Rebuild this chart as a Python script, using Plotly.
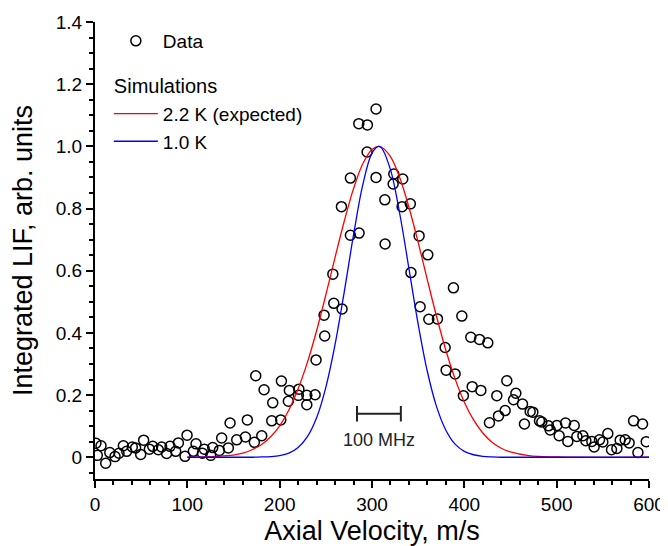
import plotly.graph_objects as go

# ---- Data ----
data_v = [1, 2.5, 6.5, 11.6, 16, 21.7, 26, 30.7, 34.3, 40.4, 44, 49.5, 52.7, 58.9, 62.5, 68.6, 72.2,
          77.6, 81.3, 87.4, 90.3, 97.5, 99.7, 106.5, 109.4, 116.3, 118.4, 125.3, 127.5, 134.7, 137.2,
          144.4, 146.3, 153.5, 162.9, 165, 172.6, 174.1, 180.6, 183.1, 191.4, 192.5, 201.2, 201.9,
          209.4, 210.5, 220.3, 220.8, 229.4, 229.4, 238.4, 239.4, 248.1, 248.8, 257.6, 258.6, 266.9,
          267.6, 276.6, 276.6, 285.7, 286, 294.7, 295, 304.4, 304.4, 313.9, 314.2, 322.9, 323.6,
          332.6, 333.3, 341.5, 342.2, 351, 352.1, 360.4, 361.5, 370.9, 379.2, 380.3, 388.2, 390,
          397.3, 399, 407, 408.5, 416.4, 417.9, 425.4, 427.2, 435.2, 437, 444.2, 446, 453.3, 455.8,
          463, 465.1, 471.3, 474.2, 481.4, 483.9, 491.1, 493, 500.2, 502.7, 509.6, 512.1, 519,
          521.9, 528.4, 531.6, 538.1, 540.6, 546.4, 550, 555.4, 559.4, 565.2, 568.8, 574.2, 578.5,
          583.3, 588, 593, 597]
data_lif = [0.045, 0.006, 0.037, -0.019, 0.015, 0.002, 0.013, 0.037, 0.019, 0.033, 0.030, 0.009, 0.055,
            0.026, 0.035, 0.024, 0.033, 0.012, 0.035, 0.019, 0.046, 0.003, 0.071, 0.019, 0.043, 0.013,
            0.026, 0.006, 0.031, 0.022, 0.062, 0.030, 0.110, 0.056, 0.065, 0.120, 0.048, 0.262, 0.069,
            0.217, 0.117, 0.175, 0.120, 0.245, 0.180, 0.215, 0.199, 0.219, 0.199, 0.169, 0.201, 0.313,
            0.457, 0.390, 0.589, 0.495, 0.806, 0.477, 0.714, 0.898, 1.073, 0.721, 0.982, 1.069, 1.120,
            0.900, 0.828, 0.686, 0.879, 0.911, 0.806, 0.895, 0.815, 0.594, 0.712, 0.484, 0.651, 0.444,
            0.445, 0.353, 0.280, 0.545, 0.268, 0.454, 0.198, 0.386, 0.227, 0.379, 0.215, 0.368, 0.111,
            0.198, 0.133, 0.150, 0.246, 0.185, 0.206, 0.171, 0.107, 0.147, 0.145, 0.117, 0.113, 0.101,
            0.088, 0.102, 0.069, 0.110, 0.051, 0.102, 0.067, 0.069, 0.053, 0.051, 0.033, 0.056, 0.049,
            0.076, 0.024, 0.028, 0.055, 0.056, 0.046, 0.117, 0.015, 0.107, 0.050]

sim_v = [100, 150, 160, 170, 180, 190, 200, 210, 220, 230, 240, 250, 260, 270, 280, 290, 300, 307,
         310, 320, 330, 340, 350, 360, 370, 380, 390, 400, 410, 420, 430, 440, 450, 470, 500, 600]
sim_22K = [0.0, 0.007, 0.013, 0.024, 0.040, 0.065, 0.101, 0.152, 0.220, 0.305, 0.407, 0.522, 0.643,
           0.760, 0.864, 0.944, 0.990, 1.000, 0.998, 0.967, 0.900, 0.804, 0.691, 0.570, 0.452, 0.344,
           0.252, 0.177, 0.120, 0.078, 0.048, 0.029, 0.017, 0.005, 0.001, 0.0]
sim_10K = [0.0, 0.0, 0.0, 0.0, 0.001, 0.002, 0.005, 0.013, 0.031, 0.066, 0.127, 0.225, 0.363, 0.533,
           0.715, 0.876, 0.978, 1.000, 0.996, 0.925, 0.784, 0.607, 0.428, 0.275, 0.162, 0.087, 0.042,
           0.019, 0.008, 0.003, 0.001, 0.0, 0.0, 0.0, 0.0, 0.0]

y_tickvals = [0, 0.2, 0.4, 0.6, 0.8, 1.0, 1.2, 1.4]
y_ticktext = ["0", "0.2", "0.4", "0.6", "0.8", "1.0", "1.2", "1.4"]
x_tickvals = [0, 100, 200, 300, 400, 500, 600]

# 100 MHz scale bar (in data units)
bar_center = 307.5
bar_width = 47.5
bar_y = 0.14
bar_cap = 0.025
bar_label = "100 MHz"

FONT = "Liberation Sans, Arial, sans-serif"

fig = go.Figure()
fig.add_trace(go.Scatter(
    x=data_v, y=data_lif, mode="markers", name="Data", legendgroup="data",
    marker=dict(symbol="circle-open", size=10, color="black", line=dict(width=1.5, color="black")),
))
fig.add_trace(go.Scatter(
    x=sim_v, y=sim_22K, mode="lines", name="2.2 K (expected)", legendgroup="sim",
    legendgrouptitle=dict(text="Simulations", font=dict(size=20, color="black", family=FONT)),
    line=dict(color="#ff0000", width=1.3, shape="spline"),
))
fig.add_trace(go.Scatter(
    x=sim_v, y=sim_10K, mode="lines", name="1.0 K", legendgroup="sim",
    line=dict(color="#0000ff", width=1.3, shape="spline"),
))

# scale bar
x0 = bar_center - bar_width / 2
x1 = bar_center + bar_width / 2
lc = dict(color="#222222", width=2)
fig.add_shape(type="line", x0=x0, x1=x1, y0=bar_y, y1=bar_y, xref="x", yref="y", line=lc)
fig.add_shape(type="line", x0=x0, x1=x0, y0=bar_y - bar_cap, y1=bar_y + bar_cap, xref="x", yref="y", line=lc)
fig.add_shape(type="line", x0=x1, x1=x1, y0=bar_y - bar_cap, y1=bar_y + bar_cap, xref="x", yref="y", line=lc)
fig.add_annotation(x=bar_center, y=bar_y - 0.045, xref="x", yref="y", text=bar_label, showarrow=False,
                   yanchor="top", font=dict(size=18, color="#222222", family=FONT))

axis_common = dict(
    showline=True, linecolor="black", linewidth=2, mirror=False, showgrid=False, zeroline=False,
    ticks="outside", ticklen=7, tickwidth=2, tickcolor="black", automargin=False,
    tickfont=dict(size=19, color="black", family=FONT),
)

fig.update_xaxes(
    range=[0, 600], tickvals=x_tickvals,
    minor=dict(dtick=20, ticks="outside", ticklen=4, tickwidth=1.5, tickcolor="black"),
    title=dict(text="Axial Velocity, m/s", font=dict(size=27, color="black", family=FONT), standoff=19),
    **axis_common,
)
fig.update_yaxes(
    range=[-0.07, 1.4], tickvals=y_tickvals, ticktext=y_ticktext,
    minor=dict(dtick=0.05, tick0=0, ticks="outside", ticklen=4, tickwidth=1.5, tickcolor="black"),
    title=dict(text="Integrated LIF, arb. units", font=dict(size=27, color="black", family=FONT), standoff=16),
    **axis_common,
)

# The page body adds an 8px offset, so the figure is sized to fit the remaining window.
fig.update_layout(
    width=660, height=538,
    margin=dict(l=87, r=19, t=14, b=67),
    plot_bgcolor="white", paper_bgcolor="white",
    font=dict(family=FONT, color="black"),
    legend=dict(x=0.025, y=1.0, xanchor="left", yanchor="top", bgcolor="rgba(0,0,0,0)",
                font=dict(size=19, color="black", family=FONT), tracegroupgap=16,
                itemwidth=44),
    showlegend=True,
)

fig.write_html("out.html")
